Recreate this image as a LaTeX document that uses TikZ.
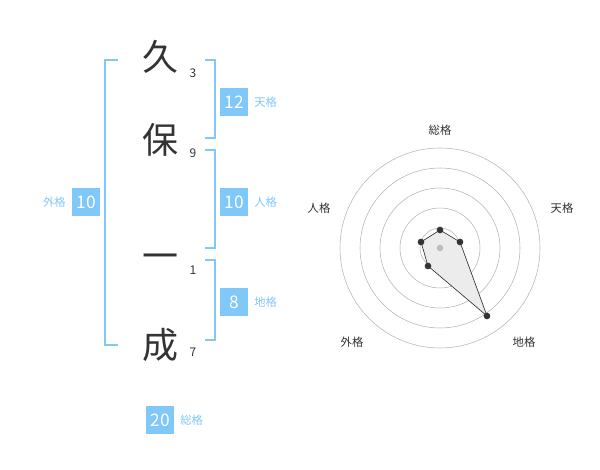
\documentclass[tikz,border=0pt]{standalone}
\usepackage{fontspec}
\usetikzlibrary{positioning}
\setmainfont{Noto Sans CJK JP}
\definecolor{lb}{HTML}{7FC8F8}
\definecolor{tx}{HTML}{333333}
\begin{document}
\begin{tikzpicture}[x=0.75pt,y=-0.75pt,
 kan/.style={font=\fontsize{27}{27}\selectfont,text=tx},
 num/.style={font=\fontsize{9}{9}\selectfont,text=tx},
 br/.style={draw=lb,line width=1.2pt},
 bx/.style={fill=lb,text=white,minimum width=21pt,minimum height=21pt,inner sep=0pt,font=\fontsize{13}{13}\selectfont},
 lab/.style={text=lb,font=\fontsize{8.5}{8.5}\selectfont},
 rl/.style={text=tx,font=\fontsize{8.5}{8.5}\selectfont},
 dot/.style={circle,fill=tx,inner sep=0pt,minimum size=5pt}]
\useasboundingbox (0,0) rectangle (600,470);
\node[kan] (k1) at (160,57) {久};
\node[kan] (k2) at (160,140) {保};
\node[kan] (k3) at (160,262) {一};
\node[kan] (k4) at (160,345) {成};
\node[num] (n1) at (193,73) {3};
\node[num] (n2) at (193,153) {9};
\node[num] (n3) at (193,270) {1};
\node[num] (n4) at (193,352) {7};
\draw[br] (118,60) -- (105,60) -- (105,345) -- (118,345);
\draw[br] (205,60) -- (215,60) -- (215,138) -- (205,138);
\draw[br] (205,150) -- (215,150) -- (215,248) -- (205,248);
\draw[br] (205,260) -- (215,260) -- (215,340) -- (205,340);
\node[bx] (b1) at (234,102) {12}; \node[lab,right=1pt of b1] {天格};
\node[bx] (b2) at (234,202) {10}; \node[lab,right=1pt of b2] {人格};
\node[bx] (b3) at (234,302) {8}; \node[lab,right=1pt of b3] {地格};
\node[bx] (b4) at (86,202) {10}; \node[lab,left=1pt of b4] {外格};
\node[bx] (b5) at (160,420) {20}; \node[lab,right=1pt of b5] {総格};
\coordinate (c) at (440,248);
\foreach \r in {20,40,60,80,100} \draw[gray!60,line width=0.4pt] (c) circle[radius=\r];
\node[rl] at (440,130) {総格};
\node[rl] at (562,208) {天格};
\node[rl] at (524,342) {地格};
\node[rl] at (352,342) {外格};
\node[rl] at (319,208) {人格};
\coordinate (p1) at (440,230);
\coordinate (p2) at (460,242);
\coordinate (p3) at (487,316);
\coordinate (p4) at (428,266);
\coordinate (p5) at (421,242);
\draw[fill=gray!15,draw=tx,line width=0.5pt] (p1)--(p2)--(p3)--(p4)--(p5)--cycle;
\node[circle,fill=gray!50,inner sep=0pt,minimum size=5pt] at (c) {};
\foreach \p in {p1,p2,p3,p4,p5} \node[dot] at (\p) {};
\end{tikzpicture}
\end{document}
